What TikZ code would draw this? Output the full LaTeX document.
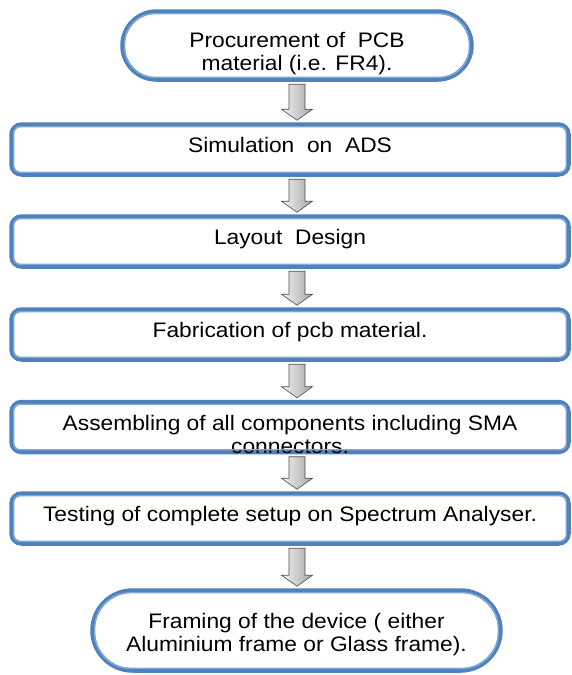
\documentclass[tikz,border=0pt]{standalone}
\usepackage{fontspec}
\setmainfont[FakeStretch=1.085]{Liberation Sans}
\usetikzlibrary{calc}

\definecolor{frameblue}{RGB}{79,129,189}
\definecolor{innerblue}{RGB}{130,168,214}

\tikzset{
  stepframe/.style={draw=frameblue, line width=4.5pt, rounded corners=10pt,
    inner sep=0pt, minimum width=557pt, minimum height=50pt, align=center,
    font=\fontsize{21}{23}\selectfont},
  innerline/.style={draw=innerblue, line width=1.4pt},
  downarrow/.style={draw=gray!60!black, line width=0.6pt,
    left color=gray!10, right color=gray!70},
}

% block arrow between two frames, on the common axis (ax)
\newcommand{\blockarrow}[2]{%
  \shade[downarrow] ($(#1.south -| ax)+(-8,2.5)$)
    -- ($(#2.north -| ax)+(-8,-13)$) -- ($(#2.north -| ax)+(-15.5,-13)$)
    -- ($(#2.north -| ax)+(0,-2)$)
    -- ($(#2.north -| ax)+(15.5,-13)$) -- ($(#2.north -| ax)+(8,-13)$)
    -- ($(#1.south -| ax)+(8,2.5)$) -- cycle;}
% one line of text, set just above the frame's centre
\newcommand{\oneline}[1]{\raisebox{-3pt}[0pt][0pt]{#1}}

\begin{document}
\begin{tikzpicture}[x=1pt, y=-1pt]
    \useasboundingbox (0,0) rectangle (572,675);
    \coordinate (ax) at (297,0);

    \node[stepframe, minimum width=349pt, minimum height=68pt, rounded corners=34pt]
        (proc) at (297,45.5)
        {\raisebox{-14pt}[0pt][0pt]{\begin{tabular}{@{}c@{}}Procurement of\ \ PCB\\
         material (i.e. FR4).\end{tabular}}};
    \node[stepframe] (sim) at (290,149.5) {\oneline{Simulation\ \ on\ \ ADS}};
    \node[stepframe] (lay) at (290,241.5) {\oneline{Layout\ \ Design}};
    \node[stepframe] (fab) at (290,334.5) {\oneline{Fabrication of pcb material.}};
    \node[stepframe] (asm) at (290,427)
        {\raisebox{-16pt}[0pt][0pt]{\begin{tabular}{@{}c@{}}Assembling of all components including SMA\\
         connectors.\end{tabular}}};
    \node[stepframe] (test) at (290,518.5)
        {\oneline{Testing of complete setup on Spectrum Analyser.}};
    \node[stepframe, minimum width=408pt, minimum height=80pt, rounded corners=40pt]
        (frame) at (296.5,630.5)
        {\raisebox{-10pt}[0pt][0pt]{\begin{tabular}{@{}c@{}}Framing of the device ( either\\
         Aluminium frame or Glass frame).\end{tabular}}};

    % thin inner lines
    \foreach \n in {sim,lay,fab,asm,test}
        \draw[innerline, rounded corners=6pt] ($(\n.north west)+(4.5,4.5)$)
            rectangle ($(\n.south east)+(-4.5,-4.5)$);
    \draw[innerline, rounded corners=29.5pt] ($(proc.north west)+(4.5,4.5)$)
        rectangle ($(proc.south east)+(-4.5,-4.5)$);
    \draw[innerline, rounded corners=35.5pt] ($(frame.north west)+(4.5,4.5)$)
        rectangle ($(frame.south east)+(-4.5,-4.5)$);

    \foreach \a/\b in {proc/sim, sim/lay, lay/fab, fab/asm, asm/test, test/frame}
        \blockarrow{\a}{\b};
\end{tikzpicture}
\end{document}
